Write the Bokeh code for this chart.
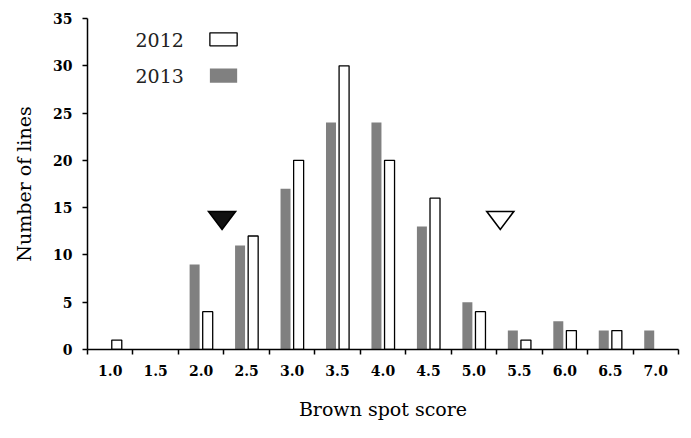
from bokeh.plotting import figure
from bokeh.models import Range1d, FixedTicker, ColumnDataSource, Label
from bokeh.transform import dodge
from bokeh.embed import file_html
from bokeh.resources import INLINE

# ---- data ----
scores = [1.0, 1.5, 2.0, 2.5, 3.0, 3.5, 4.0, 4.5, 5.0, 5.5, 6.0, 6.5, 7.0]
score_labels = ["1.0", "1.5", "2.0", "2.5", "3.0", "3.5", "4.0", "4.5", "5.0", "5.5", "6.0", "6.5", "7.0"]
lines_2012 = [1, 0, 4, 12, 20, 30, 20, 16, 4, 1, 2, 2, 0]
lines_2013 = [0, 0, 9, 11, 17, 24, 24, 13, 5, 2, 3, 2, 2]
parent_x = [2.23, 5.29]
parent_top = [14.6, 14.6]
parent_fill = ["#111111", "white"]
y_ticks = [0, 5, 10, 15, 20, 25, 30, 35]

GRAY = "#808080"
SERIF = "DejaVu Serif"

line12 = ["black" if v > 0 else None for v in lines_2012]
src = ColumnDataSource(dict(score=scores, y12=lines_2012, y13=lines_2013, lc12=line12))

p = figure(width=683, height=430, output_backend="svg", toolbar_location=None,
           x_range=Range1d(0.75, 7.25), y_range=Range1d(0, 35),
           min_border_left=87, min_border_right=5, min_border_top=18, min_border_bottom=81)
p.outline_line_color = None
p.xgrid.visible = False
p.ygrid.visible = False
p.background_fill_color = "white"

bw = 0.11
p.vbar(x=dodge("score", -0.072, range=p.x_range), top="y13", width=bw, source=src,
       fill_color=GRAY, line_color=None)
p.vbar(x=dodge("score", 0.072, range=p.x_range), top="y12", width=bw, source=src,
       fill_color="white", line_color="lc12", line_width=1.3)

# parental markers (flattened inverted triangles)
hw, th = 0.1485, 1.9
tri_xs = [[x - hw, x + hw, x] for x in parent_x]
tri_ys = [[t, t, t - th] for t in parent_top]
p.patches(xs=tri_xs, ys=tri_ys, fill_color=parent_fill, line_color="black",
          line_width=1.6, line_join="miter")

# x axis
edges = [s - 0.25 for s in scores] + [scores[-1] + 0.25]
p.xaxis.ticker = FixedTicker(ticks=scores, minor_ticks=edges)
p.xaxis.major_label_overrides = {s: l for s, l in zip(scores, score_labels)}
p.xaxis.major_tick_line_color = None
p.xaxis.minor_tick_line_color = "black"
p.xaxis.minor_tick_line_width = 1.5
p.xaxis.minor_tick_out = 5
p.xaxis.minor_tick_in = 0
p.xaxis.major_label_standoff = 9
p.xaxis.axis_label = "Brown spot score"
p.xaxis.axis_label_standoff = 19

# y axis
p.yaxis.ticker = FixedTicker(ticks=y_ticks, minor_ticks=[])
p.yaxis.major_tick_out = 5
p.yaxis.major_tick_in = 0
p.yaxis.major_tick_line_width = 1.5
p.yaxis.major_label_standoff = 10
p.yaxis.axis_label = "Number of lines"
p.yaxis.axis_label_standoff = 15

for ax in (p.xaxis, p.yaxis):
    ax.axis_line_width = 1.5
    ax.axis_line_color = "black"
    ax.major_label_text_font = SERIF
    ax.major_label_text_font_style = "bold"
    ax.major_label_text_font_size = "14px"
    ax.major_label_text_color = "black"
    ax.axis_label_text_font = SERIF
    ax.axis_label_text_font_style = "normal"
    ax.axis_label_text_font_size = "19px"
    ax.axis_label_text_color = "black"

# legend (text left, swatch right)
leg_years = ["2012", "2013"]
leg_y = [32.7, 28.9]
leg_box_y = [32.8, 28.95]
leg_fill = ["white", GRAY]
leg_line = ["black", None]
for yr, yy in zip(leg_years, leg_y):
    p.add_layout(Label(x=1.278, y=yy, text=yr, text_font=SERIF, text_font_size="19px",
                       text_baseline="middle", text_align="left", text_color="#222222"))
p.rect(x=[2.246, 2.246], y=leg_box_y, width=0.3, height=[1.37, 1.5],
       fill_color=leg_fill, line_color=leg_line, line_width=1.3)

open("out.html", "w").write(file_html(p, INLINE))
